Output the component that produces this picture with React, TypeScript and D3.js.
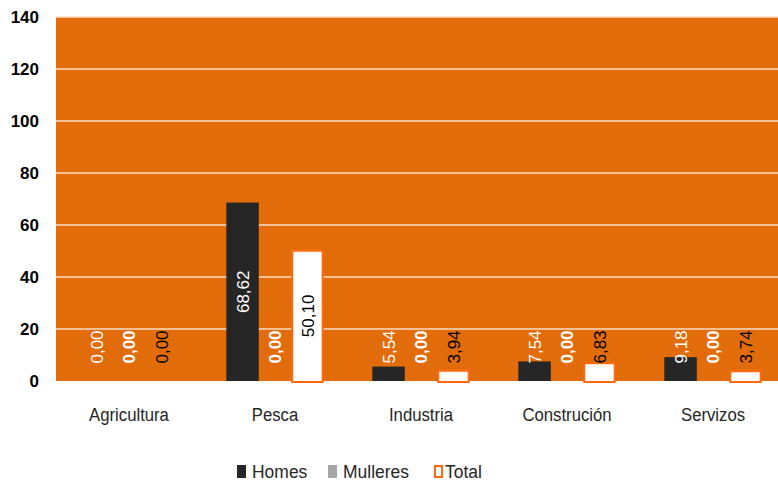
import * as d3 from "d3";

const categories = ["Agricultura", "Pesca", "Industria", "Construción", "Servizos"];
const homes = [0, 68.62, 5.54, 7.54, 9.18];
const mulleres = [0, 0, 0, 0, 0];
const total = [0, 50.1, 3.94, 6.83, 3.74];
const yTicks = [0, 20, 40, 60, 80, 100, 120, 140];
const seriesNames = ["Homes", "Mulleres", "Total"];

const W = 778;
const H = 485;
const ORANGE_BG = "#E36C0A";
const ORANGE_LINE = "#FF6A10";
const DARK = "#262626";
const GREY = "#A6A6A6";
const ARIAL = "'Liberation Sans', Arial, sans-serif";
const SQUEEZE = 0.88; // the original text is a narrow face

const fmt = (v: number) => d3.format(".2f")(v).replace(".", ",");

export default function App() {
  const x = d3.scaleBand<string>().domain(categories).range([56, 786]).padding(0);
  const xs = d3
    .scaleBand<string>()
    .domain(seriesNames)
    .range([0, x.bandwidth()])
    .paddingInner(0)
    .paddingOuter(0.75);
  const y = d3.scaleLinear().domain([0, 140]).range([381, 17]);

  const series = [
    { name: "Homes", values: homes, fill: DARK, stroke: "none", label: "#ffffff", weight: "normal" },
    { name: "Mulleres", values: mulleres, fill: GREY, stroke: "none", label: "#ffffff", weight: "bold" },
    { name: "Total", values: total, fill: "#ffffff", stroke: ORANGE_LINE, label: "#000000", weight: "normal" },
  ];

  // labels centred in the bar, but pushed up when the bar is too short
  const labelY = (v: number) => Math.min(y(v / 2), y(0) - 34);

  const legend = [
    { name: "Homes", x: 237, fill: DARK, stroke: "none" },
    { name: "Mulleres", x: 328, fill: GREY, stroke: "none" },
    { name: "Total", x: 434, fill: "#ffffff", stroke: ORANGE_LINE },
  ];

  return (
    <svg
      width={W}
      height={H}
      style={{ position: "absolute", left: 0, top: 0, background: "#fff" }}
    >
      <rect x={x.range()[0]} y={y(140)} width={x.range()[1] - x.range()[0]} height={y(0) - y(140)} fill={ORANGE_BG} />
      {yTicks.map((t) => (
        <g key={t}>
          {t > 0 && (
            <line x1={x.range()[0]} x2={x.range()[1]} y1={y(t)} y2={y(t)} stroke="#FBDCC4" strokeWidth={1.3} />
          )}
          <text
            x={39}
            y={y(t)}
            dy="0.36em"
            textAnchor="end"
            fontFamily={ARIAL}
            fontWeight="bold"
            fontSize={17}
            fill="#000"
          >
            {t}
          </text>
        </g>
      ))}

      {series.map((s) =>
        categories.map((c, i) => {
          const v = s.values[i];
          const bx = (x(c) ?? 0) + (xs(s.name) ?? 0);
          const bw = xs.bandwidth();
          const h = y(0) - y(v);
          return (
            <g key={s.name + c}>
              {v > 0 && (
                <rect
                  x={s.stroke !== "none" ? bx + 1 : bx}
                  y={y(v)}
                  width={s.stroke !== "none" ? bw - 2 : bw}
                  height={s.stroke !== "none" ? h + 1 : h}
                  fill={s.fill}
                  stroke={s.stroke}
                  strokeWidth={2}
                />
              )}
            </g>
          );
        })
      )}

      {series.map((s) =>
        categories.map((c, i) => {
          const v = s.values[i];
          const cx = (x(c) ?? 0) + (xs(s.name) ?? 0) + xs.bandwidth() / 2;
          const cy = labelY(v);
          return (
            <text
              key={"l" + s.name + c}
              transform={`translate(${cx},${cy}) rotate(-90)`}
              textAnchor="middle"
              dy="0.36em"
              fontFamily={ARIAL}
              fontSize={17}
              fontWeight={s.weight}
              fill={s.label}
            >
              {fmt(v)}
            </text>
          );
        })
      )}

      {categories.map((c) => (
        <text
          key={c}
          transform={`translate(${(x(c) ?? 0) + x.bandwidth() / 2},421) scale(${SQUEEZE},1)`}
          textAnchor="middle"
          fontFamily={ARIAL}
          fontSize={19}
          fill="#262626"
        >
          {c}
        </text>
      ))}

      {legend.map((l) => (
        <g key={l.name}>
          <rect
            x={l.stroke !== "none" ? l.x + 1 : l.x}
            y={l.stroke !== "none" ? 466 : 465}
            width={l.stroke !== "none" ? 7 : 9}
            height={l.stroke !== "none" ? 11 : 13}
            fill={l.fill}
            stroke={l.stroke}
            strokeWidth={2}
          />
          <text
            transform={`translate(${l.x + (l.name === "Total" ? 11 : 15)},478) scale(${SQUEEZE + 0.04},1)`}
            fontFamily={ARIAL}
            fontSize={19}
            fill="#262626"
          >
            {l.name}
          </text>
        </g>
      ))}
    </svg>
  );
}
